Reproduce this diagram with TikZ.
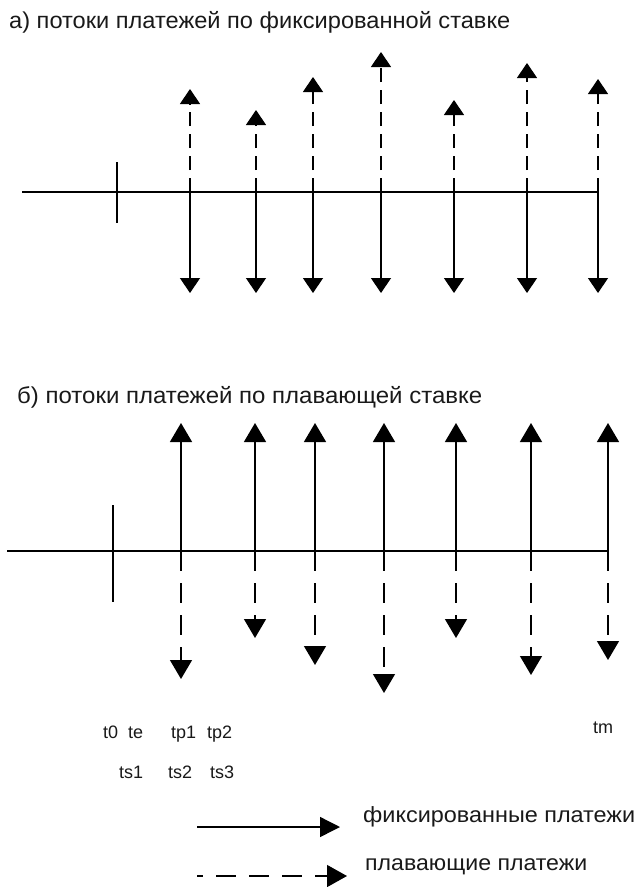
\documentclass[tikz,border=0pt]{standalone}
\usepackage{graphicx}
\usepackage{fontspec}
\setmainfont{Liberation Sans}
\usetikzlibrary{arrows.meta}
\tikzset{
  axisline/.style={line width=1.4pt},
  fixa/.style={line width=1.4pt,-{Triangle[width=20pt,length=15pt]}},
  floata/.style={line width=1.4pt,dash pattern=on 14pt off 8pt,-{Triangle[width=20pt,length=15pt]}},
  fixb/.style={line width=1.4pt,-{Triangle[width=22pt,length=19pt]}},
  floatb/.style={line width=1.4pt,dash pattern=on 20pt off 12pt,-{Triangle[width=22pt,length=19pt]}},
  legfix/.style={line width=1.4pt,-{Triangle[width=20pt,length=20pt]}},
  legfloat/.style={line width=1.4pt,dash pattern=on 20pt off 13pt,dash phase=14pt,-{Triangle[width=22pt,length=20pt]}},
  ttl/.style={anchor=base west,inner sep=0pt,font=\fontsize{23pt}{26pt}\selectfont,text=black!90},
  lbl/.style={anchor=base west,inner sep=0pt,font=\fontsize{18pt}{20pt}\selectfont,text=black!90},
  leg/.style={anchor=base west,inner sep=0pt,font=\fontsize{22pt}{24pt}\selectfont,text=black!90}
}
\begin{document}
\begin{tikzpicture}[x=1pt,y=-1pt]
\useasboundingbox (0,0) rectangle (640,887);
% ---------- titles ----------
\node[ttl] (ta) at (9,28) {\resizebox{501pt}{\height}{а) потоки платежей по фиксированной ставке}};
\node[ttl] (tb) at (17,403) {\resizebox{465pt}{\height}{б) потоки платежей по плавающей ставке}};
% ---------- section a ----------
\coordinate (aL) at (22,192); \coordinate (aR) at (598,192);
\draw[axisline] (aL) -- (aR);
\coordinate (aT1) at (117,162); \coordinate (aT2) at (117,223);
\draw[axisline] (aT1) -- (aT2);
\foreach \i/\x/\u in {1/190/89, 2/256/110, 3/313/77, 4/381/52, 5/454/100, 6/527/63, 7/598/79}{
  \coordinate (ao\i) at (\x,192);
  \coordinate (au\i) at (\x,\u);
  \coordinate (ad\i) at (\x,293);
  \draw[floata] (ao\i) -- (au\i);
  \draw[fixa] (ao\i) -- (ad\i);
}
% ---------- section b ----------
\coordinate (bL) at (7,551); \coordinate (bR) at (608,551);
\draw[axisline] (bL) -- (bR);
\coordinate (bT1) at (113,505); \coordinate (bT2) at (113,602);
\draw[axisline] (bT1) -- (bT2);
\foreach \i/\x/\d in {1/181/679, 2/255/638, 3/315/665, 4/384/693, 5/456/638, 6/531/675, 7/608/660}{
  \coordinate (bo\i) at (\x,551);
  \coordinate (bu\i) at (\x,423);
  \coordinate (bd\i) at (\x,\d);
  \draw[fixb] (bo\i) -- (bu\i);
  \draw[floatb] (bo\i) -- (bd\i);
}
% ---------- time labels ----------
\node[lbl] (t0) at (103,738) {t0};
\node[lbl] (te) at (128,738) {te};
\node[lbl] (tp1) at (171,738) {tp1};
\node[lbl] (tp2) at (207,738) {tp2};
\node[lbl] (tm) at (593,733) {tm};
\node[lbl] (ts1) at (119,778) {ts1};
\node[lbl] (ts2) at (168,778) {ts2};
\node[lbl] (ts3) at (210,778) {ts3};
% ---------- legend ----------
\coordinate (l1a) at (197,827); \coordinate (l1b) at (340,827);
\draw[legfix] (l1a) -- (l1b);
\node[leg] (lt1) at (363,822) {\resizebox{272pt}{\height}{фиксированные платежи}};
\coordinate (l2a) at (197,876); \coordinate (l2b) at (347,876);
\draw[legfloat] (l2a) -- (l2b);
\node[leg] (lt2) at (365,870) {\resizebox{222pt}{\height}{плавающие платежи}};
\end{tikzpicture}
\end{document}
